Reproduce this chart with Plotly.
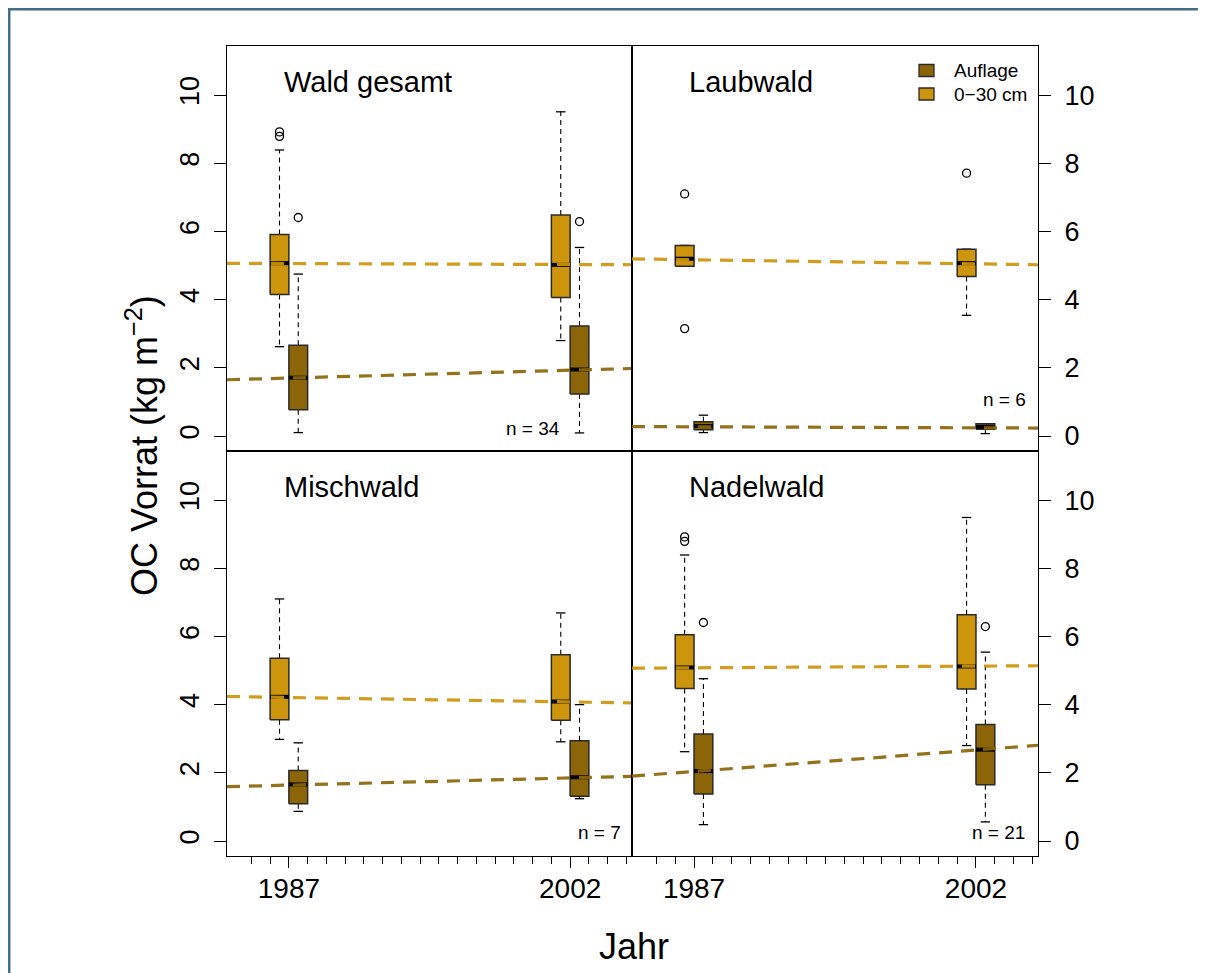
import plotly.graph_objects as go

# ---------------- data ----------------
panels = ["Wald gesamt", "Laubwald", "Mischwald", "Nadelwald"]
n_labels = ["n = 34", "n = 6", "n = 7", "n = 21"]
years = [1987, 2002]
legend_labels = ["Auflage", "0\u221230 cm"]

# 0-30 cm (mineral soil) box statistics, per panel -> [1987, 2002]
min_lo = [[2.62, 2.80], [4.98, 3.54], [2.98, 2.91], [2.62, 2.80]]
min_q1 = [[4.15, 4.06], [4.98, 4.68], [3.56, 3.54], [4.47, 4.46]]
min_med = [[5.07, 5.02], [5.20, 5.07], [4.23, 4.09], [5.09, 5.12]]
min_q3 = [[5.91, 6.48], [5.59, 5.48], [5.36, 5.46], [6.05, 6.64]]
min_hi = [[8.39, 9.51], [5.59, 5.48], [7.10, 6.69], [8.39, 9.49]]
min_out = [[[8.92, 8.79], []], [[7.10, 3.15], [7.71]], [[], []], [[8.92, 8.79], []]]

# Auflage (organic layer) box statistics
auf_lo = [[0.10, 0.09], [0.10, 0.07], [0.87, 1.24], [0.48, 0.56]]
auf_q1 = [[0.77, 1.23], [0.18, 0.20], [1.09, 1.31], [1.38, 1.65]]
auf_med = [[1.71, 1.95], [0.29, 0.27], [1.66, 1.87], [2.05, 2.68]]
auf_q3 = [[2.66, 3.23], [0.42, 0.36], [2.07, 2.94], [3.14, 3.42]]
auf_hi = [[4.75, 5.53], [0.61, 0.36], [2.88, 4.00], [4.76, 5.54]]
auf_out = [[[6.41], [6.29]], [[], []], [[], []], [[6.41], [6.29]]]

# trend lines (fitted values at 1987 and 2002)
min_trend = [[5.06, 5.03], [5.17, 5.05], [4.21, 4.08], [5.08, 5.13]]
auf_trend = [[1.70, 1.93], [0.27, 0.24], [1.64, 1.85], [2.04, 2.67]]

y_ticks = [0, 2, 4, 6, 8, 10]
x_minor = list(range(1985, 2006))

# ---------------- style ----------------
GOLD = "#CD950C"
BROWN = "#8B6508"
FONT = "Liberation Sans, Arial, Helvetica, sans-serif"
W, H = 1206, 973
OFF = 8  # page body margin: the figure is drawn 8 px right / down of the window corner
XR = [1983.7, 2005.3]
YR = [-0.44, 11.44]


def fx(X):
    return (X - OFF) / W


def fy(Y):
    return 1 - (Y - OFF) / H


px_left, px_mid, px_right = 227, 632, 1038
py_top, py_mid, py_bot = 46, 451, 856
xdom = [[fx(px_left), fx(px_mid)], [fx(px_mid), fx(px_right)]]
ydom_top = [fy(py_mid), fy(py_top)]
ydom_bot = [fy(py_bot), fy(py_mid)]

fig = go.Figure()

layers = [
    dict(off=-0.5, col=GOLD, lo=min_lo, q1=min_q1, med=min_med, q3=min_q3, hi=min_hi, out=min_out, tr=min_trend),
    dict(off=0.5, col=BROWN, lo=auf_lo, q1=auf_q1, med=auf_med, q3=auf_q3, hi=auf_hi, out=auf_out, tr=auf_trend),
]

axis_ids = ["", "2", "3", "4"]

for p in range(4):
    xa = "x" + axis_ids[p]
    ya = "y" + axis_ids[p]
    for L in layers:
        for j, yr in enumerate(years):
            cx = yr + L["off"]
            half = 0.5
            cap = 0.25
            lo, q1, md, q3, hi = L["lo"][p][j], L["q1"][p][j], L["med"][p][j], L["q3"][p][j], L["hi"][p][j]
            # whiskers
            fig.add_trace(go.Scatter(x=[cx, cx, None, cx, cx], y=[q3, hi, None, q1, lo], mode="lines",
                                     line=dict(color="black", width=1.1, dash="5px,4px"),
                                     xaxis=xa, yaxis=ya, showlegend=False, hoverinfo="skip"))
            # caps
            fig.add_trace(go.Scatter(x=[cx - cap, cx + cap, None, cx - cap, cx + cap], y=[hi, hi, None, lo, lo],
                                     mode="lines", line=dict(color="black", width=1.3),
                                     xaxis=xa, yaxis=ya, showlegend=False, hoverinfo="skip"))
            # box
            fig.add_trace(go.Scatter(x=[cx - half, cx + half, cx + half, cx - half, cx - half],
                                     y=[q1, q1, q3, q3, q1], mode="lines", fill="toself",
                                     fillcolor=L["col"], line=dict(color="#2a2a2a", width=1.5),
                                     xaxis=xa, yaxis=ya, showlegend=False, hoverinfo="skip"))
            # median
            fig.add_trace(go.Scatter(x=[cx - half, cx + half], y=[md, md], mode="lines",
                                     line=dict(color="black", width=4),
                                     xaxis=xa, yaxis=ya, showlegend=False, hoverinfo="skip"))
            # outliers
            outs = L["out"][p][j]
            if outs:
                fig.add_trace(go.Scatter(x=[cx] * len(outs), y=outs, mode="markers",
                                         marker=dict(symbol="circle-open", size=8, color="black",
                                                     line=dict(width=1.3)),
                                         xaxis=xa, yaxis=ya, showlegend=False, hoverinfo="skip"))
    # trend lines (drawn on top)
    for L in layers:
        t0, t1 = L["tr"][p]
        slope = (t1 - t0) / (years[1] - years[0])
        xs = [XR[0], XR[1]]
        ys = [t0 + slope * (x - years[0]) for x in xs]
        fig.add_trace(go.Scatter(x=xs, y=ys, mode="lines",
                                 line=dict(color=L["col"], width=3.2, dash="13px,9px"),
                                 opacity=0.92, xaxis=xa, yaxis=ya, showlegend=False, hoverinfo="skip"))

# ---------------- axes ----------------
common_x = dict(range=XR, showline=True, linecolor="black", linewidth=1.3, mirror=True,
                showgrid=False, zeroline=False, fixedrange=True)
common_y = dict(range=YR, showline=True, linecolor="black", linewidth=1.3, mirror=True,
                showgrid=False, zeroline=False, tickvals=y_ticks, ticks="outside", ticklen=12,
                tickwidth=1, tickcolor="black", tickfont=dict(family=FONT, size=27, color="black"))

lay = dict()
for p in range(4):
    col = p % 2
    row = p // 2
    xname = "xaxis" + axis_ids[p]
    yname = "yaxis" + axis_ids[p]
    xa = dict(common_x, domain=xdom[col], anchor="y" + axis_ids[p])
    if row == 0:
        xa.update(showticklabels=False, ticks="")
    else:
        xa.update(tickvals=years, ticktext=[str(y) for y in years], ticks="outside", ticklen=11,
                  tickwidth=1, tickcolor="black", ticklabelstandoff=-4,
                  tickfont=dict(family=FONT, size=28, color="black"),
                  minor=dict(tickmode="array", tickvals=x_minor, ticks="outside", ticklen=7,
                             tickwidth=1, tickcolor="black", showgrid=False))
    ya = dict(common_y, domain=ydom_top if row == 0 else ydom_bot, anchor="x" + axis_ids[p])
    if col == 0:
        ya.update(side="left", tickangle=-90, ticklabelstandoff=4)
    else:
        ya.update(side="right", ticklabelstandoff=8)
    lay[xname] = xa
    lay[yname] = ya

fig.update_layout(**lay)

# ---------------- annotations ----------------
ann = []
title_pos = [(281.7, 82), (687.3, 82), (281.7, 487), (687.3, 487)]
n_pos = [(561.7, 428), (1028.3, 400), (623.3, 832), (1026.7, 832)]
for p in range(4):
    tx, ty = title_pos[p]
    ann.append(dict(x=fx(tx), y=fy(ty), xref="paper", yref="paper", text=panels[p],
                    showarrow=False, xanchor="left", yanchor="middle",
                    font=dict(family=FONT, size=29, color="black")))
    nx, ny = n_pos[p]
    ann.append(dict(x=fx(nx), y=fy(ny), xref="paper", yref="paper", text=n_labels[p],
                    showarrow=False, xanchor="right", yanchor="middle",
                    font=dict(family=FONT, size=19, color="black")))

# axis titles
ann.append(dict(x=fx(142), y=fy(446), xref="paper", yref="paper",
                text="OC Vorrat (kg m<sup>\u22122</sup>)", textangle=-90, showarrow=False,
                xanchor="center", yanchor="middle", font=dict(family=FONT, size=36, color="black")))
ann.append(dict(x=fx(634), y=fy(946), xref="paper", yref="paper", text="Jahr",
                showarrow=False, xanchor="center", yanchor="middle",
                font=dict(family=FONT, size=36, color="black")))

# legend (manual)
shapes = []
leg_cols = [BROWN, GOLD]
leg_y = [70.5, 94.0]
for k in range(2):
    cy = leg_y[k]
    shapes.append(dict(type="rect", xref="paper", yref="paper",
                       x0=fx(919), x1=fx(934), y0=fy(cy + 6), y1=fy(cy - 6),
                       fillcolor=leg_cols[k], line=dict(color="#2a2a2a", width=1.3)))
    ann.append(dict(x=fx(952), y=fy(cy), xref="paper", yref="paper", text=legend_labels[k],
                    showarrow=False, xanchor="left", yanchor="middle",
                    font=dict(family=FONT, size=19, color="black")))

# outer frame (top and left edges)
FRAME = "#406e84"
shapes.append(dict(type="line", xref="paper", yref="paper", x0=0, x1=1.0, y0=fy(9.2), y1=fy(9.2),
                   line=dict(color=FRAME, width=2.5)))
shapes.append(dict(type="line", xref="paper", yref="paper", x0=fx(9.2), x1=fx(9.2), y0=0, y1=fy(8),
                   line=dict(color=FRAME, width=2.5)))

fig.update_layout(width=W, height=H, margin=dict(l=0, r=0, t=0, b=0),
                  paper_bgcolor="white", plot_bgcolor="white",
                  annotations=ann, shapes=shapes, showlegend=False,
                  font=dict(family=FONT, color="black"))

fig.write_html("out.html")
